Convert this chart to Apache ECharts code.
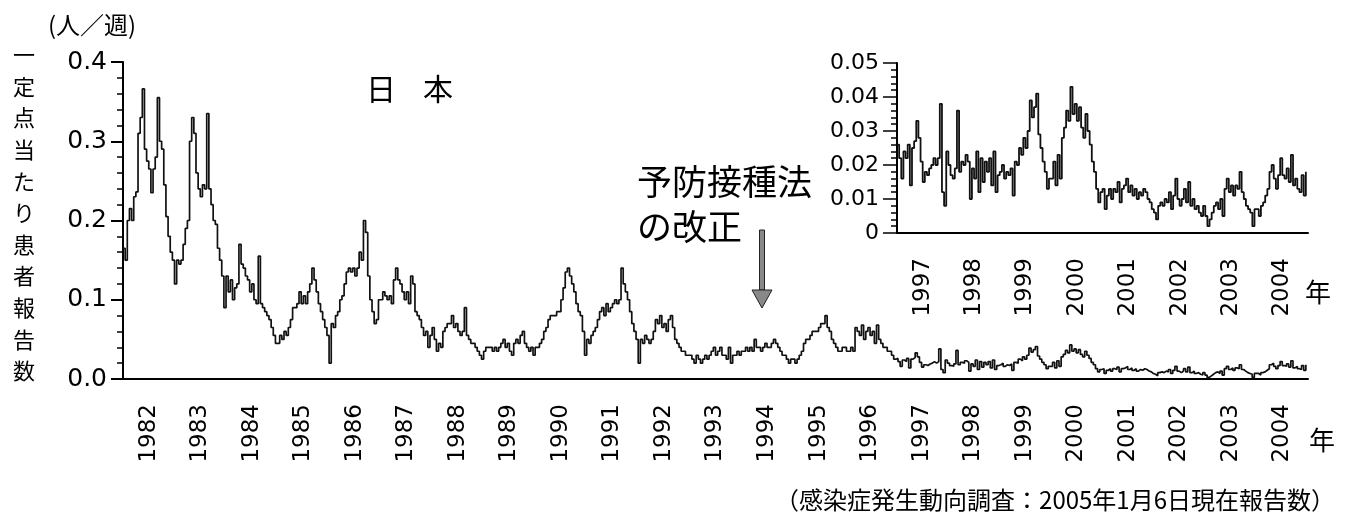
<!DOCTYPE html>
<html>
<head>
<meta charset="utf-8">
<script src="https://cdn.jsdelivr.net/npm/echarts@6/dist/echarts.min.js"></script>
<style>
  html, body { margin: 0; padding: 0; background: #fff; }
  #chart { width: 1345px; height: 528px; }
</style>
</head>
<body>
<div id="chart"></div>
<script>
// 一定点当たり患者報告数 (人/週), 24 readings per year
const mainYears = ['1982', '1983', '1984', '1985', '1986', '1987', '1988', '1989', '1990', '1991', '1992',
  '1993', '1994', '1995', '1996', '1997', '1998', '1999', '2000', '2001', '2002', '2003', '2004']
const insetYears = ['1997', '1998', '1999', '2000', '2001', '2002', '2003', '2004']

// 1982 - 1996
const rate1982to1996 = [
  [0.165, 0.15, 0.20, 0.215, 0.20, 0.23, 0.236, 0.31, 0.33, 0.366, 0.29, 0.275, 0.265, 0.235, 0.265, 0.28, 0.355, 0.30, 0.29, 0.245, 0.205, 0.18, 0.16, 0.15],
  [0.12, 0.15, 0.145, 0.15, 0.17, 0.19, 0.20, 0.30, 0.33, 0.31, 0.26, 0.24, 0.23, 0.245, 0.24, 0.335, 0.24, 0.22, 0.20, 0.195, 0.165, 0.15, 0.13, 0.09],
  [0.13, 0.11, 0.125, 0.10, 0.115, 0.12, 0.17, 0.145, 0.14, 0.13, 0.125, 0.11, 0.12, 0.10, 0.095, 0.155, 0.095, 0.09, 0.085, 0.08, 0.075, 0.065, 0.055, 0.045],
  [0.045, 0.055, 0.05, 0.06, 0.055, 0.065, 0.075, 0.09, 0.09, 0.095, 0.11, 0.095, 0.105, 0.095, 0.11, 0.12, 0.14, 0.125, 0.11, 0.095, 0.085, 0.075, 0.065, 0.055],
  [0.02, 0.07, 0.065, 0.08, 0.085, 0.10, 0.105, 0.12, 0.135, 0.14, 0.135, 0.14, 0.13, 0.14, 0.16, 0.15, 0.20, 0.185, 0.13, 0.10, 0.085, 0.07, 0.075, 0.10],
  [0.10, 0.11, 0.105, 0.10, 0.105, 0.095, 0.125, 0.14, 0.125, 0.12, 0.11, 0.10, 0.11, 0.095, 0.13, 0.12, 0.085, 0.08, 0.075, 0.065, 0.055, 0.06, 0.04, 0.055],
  [0.065, 0.05, 0.035, 0.045, 0.04, 0.06, 0.065, 0.07, 0.07, 0.08, 0.065, 0.07, 0.06, 0.055, 0.06, 0.09, 0.055, 0.05, 0.045, 0.045, 0.04, 0.035, 0.03, 0.025],
  [0.035, 0.04, 0.04, 0.04, 0.035, 0.04, 0.035, 0.04, 0.045, 0.05, 0.04, 0.045, 0.035, 0.03, 0.045, 0.05, 0.045, 0.055, 0.06, 0.045, 0.04, 0.035, 0.04, 0.03],
  [0.04, 0.04, 0.045, 0.05, 0.06, 0.065, 0.075, 0.08, 0.08, 0.08, 0.085, 0.085, 0.10, 0.115, 0.135, 0.14, 0.13, 0.12, 0.11, 0.095, 0.085, 0.08, 0.06, 0.03],
  [0.05, 0.045, 0.055, 0.06, 0.065, 0.075, 0.085, 0.09, 0.08, 0.095, 0.085, 0.09, 0.095, 0.10, 0.095, 0.10, 0.14, 0.12, 0.11, 0.10, 0.085, 0.07, 0.06, 0.05],
  [0.02, 0.05, 0.045, 0.055, 0.05, 0.045, 0.05, 0.06, 0.075, 0.07, 0.08, 0.065, 0.07, 0.06, 0.075, 0.08, 0.065, 0.05, 0.045, 0.04, 0.035, 0.035, 0.03, 0.03],
  [0.03, 0.025, 0.02, 0.03, 0.025, 0.02, 0.025, 0.03, 0.025, 0.03, 0.035, 0.04, 0.03, 0.035, 0.04, 0.03, 0.03, 0.025, 0.04, 0.02, 0.03, 0.03, 0.035, 0.03],
  [0.035, 0.035, 0.04, 0.035, 0.04, 0.035, 0.05, 0.04, 0.04, 0.035, 0.04, 0.045, 0.04, 0.04, 0.045, 0.05, 0.045, 0.04, 0.035, 0.03, 0.03, 0.025, 0.02, 0.025],
  [0.025, 0.02, 0.025, 0.03, 0.035, 0.045, 0.05, 0.05, 0.055, 0.06, 0.06, 0.06, 0.065, 0.07, 0.07, 0.08, 0.065, 0.06, 0.05, 0.045, 0.04, 0.035, 0.035, 0.04],
  [0.04, 0.035, 0.035, 0.04, 0.035, 0.065, 0.06, 0.055, 0.068, 0.05, 0.06, 0.065, 0.055, 0.06, 0.045, 0.068, 0.05, 0.045, 0.04, 0.04, 0.035, 0.035, 0.03, 0.025]
]

// 1997 - 2004 (also drawn in the main chart)
const rate1997to2004 = [
  [0.026, 0.022, 0.016, 0.024, 0.022, 0.026, 0.014, 0.025, 0.027, 0.033, 0.028, 0.021, 0.015, 0.018, 0.017, 0.019, 0.02, 0.022, 0.02, 0.022, 0.038, 0.012, 0.008, 0.024],
  [0.02, 0.017, 0.016, 0.019, 0.036, 0.018, 0.021, 0.02, 0.023, 0.021, 0.01, 0.019, 0.016, 0.024, 0.012, 0.022, 0.015, 0.021, 0.018, 0.022, 0.014, 0.024, 0.012, 0.017],
  [0.018, 0.02, 0.016, 0.018, 0.017, 0.019, 0.011, 0.021, 0.02, 0.025, 0.023, 0.028, 0.025, 0.03, 0.039, 0.034, 0.037, 0.041, 0.029, 0.025, 0.021, 0.018, 0.013, 0.016],
  [0.016, 0.021, 0.014, 0.023, 0.016, 0.028, 0.031, 0.036, 0.033, 0.043, 0.035, 0.038, 0.033, 0.037, 0.031, 0.028, 0.035, 0.03, 0.026, 0.021, 0.018, 0.013, 0.009, 0.012],
  [0.013, 0.007, 0.011, 0.013, 0.01, 0.013, 0.012, 0.015, 0.009, 0.013, 0.014, 0.016, 0.012, 0.014, 0.011, 0.013, 0.01, 0.012, 0.011, 0.013, 0.012, 0.01, 0.009, 0.007],
  [0.006, 0.004, 0.008, 0.009, 0.008, 0.01, 0.009, 0.012, 0.007, 0.011, 0.016, 0.01, 0.008, 0.01, 0.013, 0.009, 0.015, 0.008, 0.01, 0.007, 0.008, 0.006, 0.005, 0.008],
  [0.005, 0.002, 0.004, 0.006, 0.008, 0.009, 0.007, 0.01, 0.005, 0.013, 0.016, 0.012, 0.014, 0.011, 0.014, 0.013, 0.018, 0.012, 0.01, 0.008, 0.007, 0.006, 0.002, 0.007],
  [0.007, 0.005, 0.008, 0.009, 0.011, 0.013, 0.018, 0.02, 0.016, 0.013, 0.017, 0.022, 0.017, 0.016, 0.019, 0.015, 0.023, 0.014, 0.016, 0.013, 0.012, 0.017, 0.011, 0.018]
]

const toPoints = (rows, firstYear) => {
  let pts = []
  rows.forEach((row, y) => {
    row.forEach((v, i) => {
      pts.push([firstYear + y + i / row.length, v])
    })
  })
  return pts
}

const mainData = toPoints(rate1982to1996, 1982).concat(toPoints(rate1997to2004, 1997))
const insetData = toPoints(rate1997to2004, 1997)

const jp = 'Noto Sans CJK JP'
const num = 'DejaVu Sans'
const black = '#000'

const yearAxis = (gridIndex, years) => ({
  gridIndex: gridIndex,
  type: 'category',
  position: 'bottom',
  data: years,
  boundaryGap: true,
  axisLine: { lineStyle: { color: black, width: 2 } },
  axisTick: { length: 22, interval: 0, lineStyle: { color: black, width: 2 } },
  axisLabel: { rotate: 90, interval: 0, margin: 25, fontSize: 23, fontFamily: num, color: black }
})

const c = echarts.init(document.getElementById('chart'), null, { renderer: 'canvas' })
c.setOption({
  animation: false,
  backgroundColor: '#fff',
  grid: [
    { left: 123, right: 37, top: 62, bottom: 149 },
    { left: 897, right: 37, top: 63, bottom: 295 }
  ],
  xAxis: [
    { gridIndex: 0, type: 'value', position: 'bottom', min: 1982, max: 2005, show: false },
    yearAxis(0, mainYears),
    { gridIndex: 1, type: 'value', position: 'bottom', min: 1997, max: 2005, show: false },
    yearAxis(1, insetYears)
  ],
  yAxis: [
    {
      gridIndex: 0,
      type: 'value',
      min: 0,
      max: 0.4,
      interval: 0.1,
      splitLine: { show: false },
      axisLine: { show: true, lineStyle: { color: black, width: 2 } },
      axisTick: { show: true, length: 12, lineStyle: { color: black, width: 2 } },
      minorTick: { show: true, splitNumber: 5, length: 6, lineStyle: { color: black, width: 1.5 } },
      axisLabel: { formatter: (v) => v.toFixed(1), fontSize: 25, margin: 16, fontFamily: num, color: black }
    },
    {
      gridIndex: 1,
      type: 'value',
      min: 0,
      max: 0.05,
      interval: 0.01,
      splitLine: { show: false },
      axisLine: { show: true, lineStyle: { color: black, width: 2 } },
      axisTick: { show: true, length: 14, lineStyle: { color: black, width: 1.5 } },
      minorTick: { show: true, splitNumber: 5, length: 6, lineStyle: { color: black, width: 1.5 } },
      axisLabel: {
        formatter: (v) => (v === 0 ? '0' : v.toFixed(2)),
        fontSize: 22,
        margin: 18,
        fontFamily: num,
        color: black
      }
    }
  ],
  series: [
    {
      name: '日本',
      type: 'line',
      xAxisIndex: 0,
      yAxisIndex: 0,
      data: mainData,
      step: 'end',
      symbol: 'none',
      lineStyle: { color: '#111', width: 1.7 }
    },
    {
      name: '日本 1997-2004',
      type: 'line',
      xAxisIndex: 2,
      yAxisIndex: 1,
      data: insetData,
      step: 'end',
      symbol: 'none',
      lineStyle: { color: '#111', width: 1.8 }
    }
  ],
  graphic: [
    { type: 'text', style: { text: '(人／週)', x: 48, y: 25, verticalAlign: 'middle', fontSize: 24, fontFamily: jp, fill: black } },
    {
      type: 'text',
      style: {
        text: '一定点当たり患者報告数'.split('').join('\n'),
        x: 24,
        y: 39,
        align: 'center',
        verticalAlign: 'top',
        fontSize: 22,
        lineHeight: 31.6,
        fontFamily: jp,
        fill: black
      }
    },
    { type: 'text', style: { text: '日', x: 381, y: 89, align: 'center', verticalAlign: 'middle', fontSize: 30, fontFamily: jp, fill: black } },
    { type: 'text', style: { text: '本', x: 438, y: 89, align: 'center', verticalAlign: 'middle', fontSize: 30, fontFamily: jp, fill: black } },
    { type: 'text', style: { text: '予防接種法', x: 637, y: 182, verticalAlign: 'middle', fontSize: 35, fontFamily: jp, fill: black } },
    { type: 'text', style: { text: 'の改正', x: 637, y: 227, verticalAlign: 'middle', fontSize: 35, fontFamily: jp, fill: black } },
    { type: 'rect', shape: { x: 759.5, y: 230, width: 5, height: 60 }, style: { fill: '#888', stroke: '#222', lineWidth: 1 } },
    { type: 'polygon', shape: { points: [[752, 290], [772, 290], [762, 308]] }, style: { fill: '#888', stroke: '#222', lineWidth: 1 } },
    { type: 'text', style: { text: '年', x: 1318, y: 292, align: 'center', verticalAlign: 'middle', fontSize: 26, fontFamily: jp, fill: black } },
    { type: 'text', style: { text: '年', x: 1322, y: 440, align: 'center', verticalAlign: 'middle', fontSize: 26, fontFamily: jp, fill: black } },
    {
      type: 'text',
      style: {
        text: '（感染症発生動向調査：2005年1月6日現在報告数）',
        x: 1335,
        y: 500,
        align: 'right',
        verticalAlign: 'middle',
        fontSize: 24,
        fontFamily: jp,
        fill: black
      }
    }
  ]
})
</script>
</body>
</html>
